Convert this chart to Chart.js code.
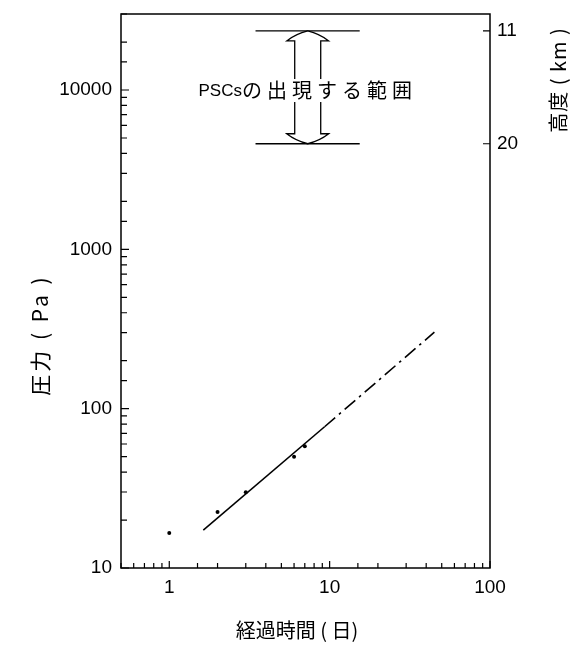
<!DOCTYPE html>
<html>
<head>
<meta charset="utf-8">
<script src="https://cdn.jsdelivr.net/npm/chart.js@4.4.0/dist/chart.umd.min.js"></script>
<style>
  html, body { margin: 0; padding: 0; background: #fff; }
  #wrap { width: 578px; height: 652px; }
</style>
</head>
<body>
<div id="wrap"><canvas id="chart"></canvas></div>
<script>
// observed points (days, Pa)
const obsDays = [1, 2, 3, 6, 7];
const obsPressure = [16.6, 22.5, 29.9, 49.9, 58.2];
// fitted line: solid part then dash-dot part
const fitDays = [1.63, 9.3, 45];
const fitPressure = [17.3, 77, 302];
// right axis: altitude labels at pressure levels
const altitudeKm = [11, 20];
const altitudePa = [23500, 4600];
// PSC range arrow
const pscRangePa = [23500, 4600];
const pscDay = 7.3;
const pscBarDays = [3.45, 15.4];
const pscLabel = ["PSCs", "の出現する範囲"];
const xLabels = [1, 10, 100];
const yLabels = [10, 100, 1000, 10000];

const CJK = "'Noto Sans CJK JP', sans-serif";
const LATIN = "'Liberation Sans', Arial, sans-serif";

const isPow10 = (v) => Math.abs(Math.log10(v) - Math.round(Math.log10(v))) < 1e-9;

/**
 * Frame, inward tick marks, PSC arrow and axis titles.
 */
const decorPlugin = {
  id: "decor",
  afterDraw(chart) {
    const { ctx, chartArea: a, scales } = chart;
    const xs = scales.x, ys = scales.y, ys2 = scales.y2;
    ctx.save();
    ctx.strokeStyle = "#000";
    ctx.fillStyle = "#000";
    ctx.lineWidth = 1.5;
    ctx.strokeRect(a.left, a.top, a.right - a.left, a.bottom - a.top);

    // tick marks pointing into the plot
    ctx.lineWidth = 1.2;
    ctx.beginPath();
    for (const t of xs.ticks) {
      const px = xs.getPixelForValue(t.value);
      const len = isPow10(t.value) ? 7 : 5;
      ctx.moveTo(px, a.bottom);
      ctx.lineTo(px, a.bottom - len);
    }
    for (const t of ys.ticks) {
      const py = ys.getPixelForValue(t.value);
      const len = isPow10(t.value) ? 8 : 6;
      ctx.moveTo(a.left, py);
      ctx.lineTo(a.left + len, py);
    }
    for (const t of ys2.ticks) {
      const py = ys2.getPixelForValue(t.value);
      ctx.moveTo(a.right, py);
      ctx.lineTo(a.right - 7, py);
    }
    ctx.stroke();

    // PSC range: bars and hollow double arrow
    const cx = xs.getPixelForValue(pscDay);
    const yTop = ys.getPixelForValue(pscRangePa[0]);
    const yBot = ys.getPixelForValue(pscRangePa[1]);
    const bx0 = xs.getPixelForValue(pscBarDays[0]);
    const bx1 = xs.getPixelForValue(pscBarDays[1]);
    ctx.lineWidth = 1.3;
    ctx.beginPath();
    ctx.moveTo(bx0, yTop); ctx.lineTo(bx1, yTop);
    ctx.moveTo(bx0, yBot); ctx.lineTo(bx1, yBot);
    ctx.stroke();

    const hw = 21, sw = 13, hh = 10;
    ctx.beginPath();
    ctx.moveTo(cx, yTop);
    ctx.quadraticCurveTo(cx - 12, yTop + 3, cx - hw, yTop + hh);
    ctx.lineTo(cx - sw, yTop + hh);
    ctx.lineTo(cx - sw, yBot - hh);
    ctx.lineTo(cx - hw, yBot - hh);
    ctx.quadraticCurveTo(cx - 12, yBot - 3, cx, yBot);
    ctx.quadraticCurveTo(cx + 12, yBot - 3, cx + hw, yBot - hh);
    ctx.lineTo(cx + sw, yBot - hh);
    ctx.lineTo(cx + sw, yTop + hh);
    ctx.lineTo(cx + hw, yTop + hh);
    ctx.quadraticCurveTo(cx + 12, yTop + 3, cx, yTop);
    ctx.closePath();
    ctx.fillStyle = "#fff";
    ctx.fill();
    ctx.stroke();

    // label over the shaft
    const ty = ys.getPixelForValue(10000);
    ctx.font = "17px " + LATIN;
    const w0 = ctx.measureText(pscLabel[0]).width;
    ctx.font = "20px " + CJK;
    ctx.letterSpacing = "5px";
    const w1 = ctx.measureText(pscLabel[1]).width;
    const tx = cx - (w0 + w1) / 2;
    ctx.fillStyle = "#fff";
    ctx.fillRect(cx - sw - 3, ty - 11, 2 * sw + 6, 23);
    ctx.fillStyle = "#000";
    ctx.textBaseline = "middle";
    ctx.textAlign = "left";
    ctx.fillText(pscLabel[1], tx + w0, ty);
    ctx.letterSpacing = "0px";
    ctx.font = "17px " + LATIN;
    ctx.fillText(pscLabel[0], tx, ty + 1);

    // axis titles
    ctx.font = "20px " + CJK;
    ctx.textAlign = "center";
    ctx.fillText("経過時間 ( 日)", 297, 630);
    ctx.font = "21px " + CJK;
    ctx.letterSpacing = "3px";
    ctx.save();
    ctx.translate(40, 335);
    ctx.rotate(-Math.PI / 2);
    ctx.fillText("圧力 ( Pa )", 0, 0);
    ctx.restore();
    ctx.font = "20px " + CJK;
    ctx.letterSpacing = "1px";
    ctx.save();
    ctx.translate(558, 80);
    ctx.rotate(-Math.PI / 2);
    ctx.fillText("高度 ( km )", 0, 0);
    ctx.restore();
    ctx.letterSpacing = "0px";

    ctx.restore();
  },
};

Chart.defaults.font.family = LATIN;
Chart.defaults.color = "#000";

const noVertPadding = (width) => (s) => {
  s.width = width;
  s.paddingTop = 0;
  s.paddingBottom = 0;
};

new Chart(document.getElementById("chart"), {
  type: "scatter",
  data: {
    datasets: [
      {
        data: obsDays.map((d, i) => ({ x: d, y: obsPressure[i] })),
        pointRadius: 2,
        pointBackgroundColor: "#000",
        pointBorderWidth: 0,
      },
      {
        type: "line",
        data: fitDays.map((d, i) => ({ x: d, y: fitPressure[i] })),
        borderColor: "#000",
        borderWidth: 1.6,
        pointRadius: 0,
        fill: false,
        segment: {
          borderDash: (c) => (c.p0DataIndex === 0 ? [] : [14, 5, 2.5, 5]),
        },
      },
    ],
  },
  options: {
    responsive: true,
    maintainAspectRatio: false,
    animation: false,
    layout: { padding: { top: 14, left: 0, right: 0, bottom: 0 } },
    plugins: { legend: { display: false }, tooltip: { enabled: false } },
    scales: {
      x: {
        type: "logarithmic",
        min: 0.5,
        max: 100,
        grid: { display: false, drawTicks: false },
        border: { display: false },
        ticks: {
          autoSkip: false,
          maxRotation: 0,
          padding: 8,
          font: { size: 19 },
          callback: (v) => (xLabels.includes(v) ? String(v) : ""),
        },
        afterFit: (s) => { s.height = 84; },
      },
      y: {
        type: "logarithmic",
        min: 10,
        max: 30000,
        grid: { display: false, drawTicks: false },
        border: { display: false },
        ticks: {
          autoSkip: false,
          padding: 9,
          font: { size: 19 },
          callback: (v) => (yLabels.includes(v) ? String(v) : ""),
        },
        afterFit: noVertPadding(121),
      },
      y2: {
        type: "logarithmic",
        position: "right",
        min: 10,
        max: 30000,
        grid: { display: false, drawTicks: false },
        border: { display: false },
        afterBuildTicks: (s) => { s.ticks = altitudePa.map((v) => ({ value: v })); },
        ticks: {
          autoSkip: false,
          padding: 7,
          font: { size: 19 },
          callback: (v) => String(altitudeKm[altitudePa.indexOf(v)]),
        },
        afterFit: noVertPadding(88),
      },
    },
  },
  plugins: [decorPlugin],
});
</script>
</body>
</html>
